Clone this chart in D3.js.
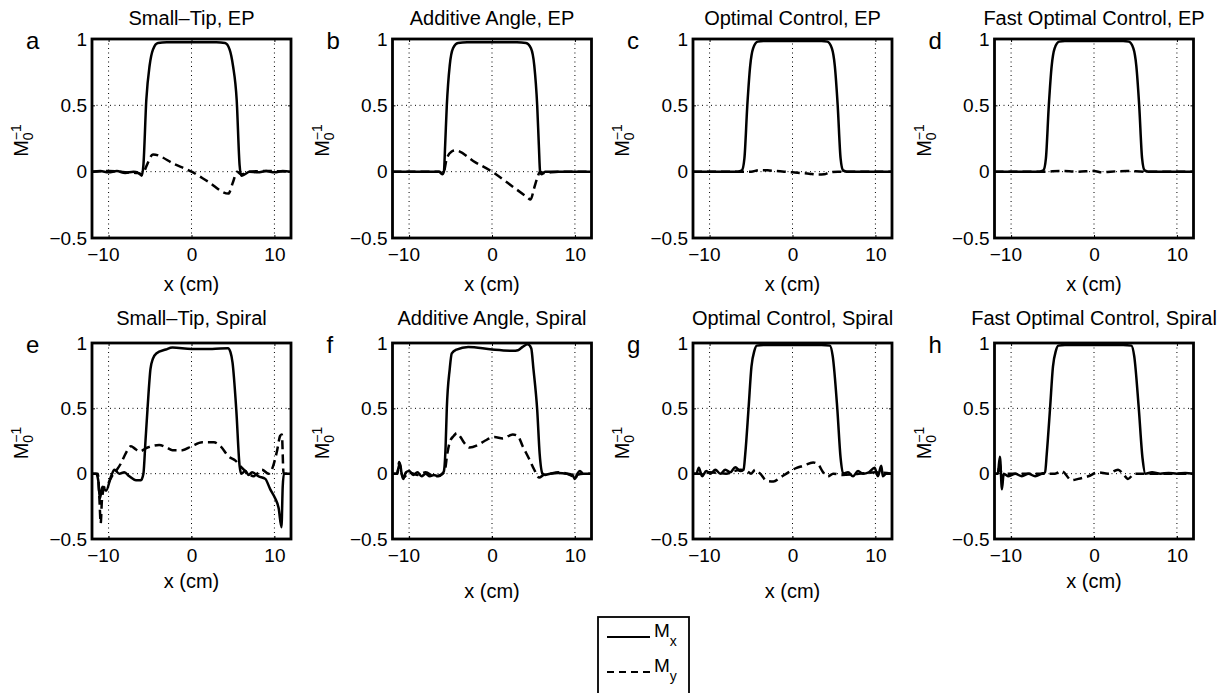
<!DOCTYPE html>
<html>
<head>
<meta charset="utf-8">
<script src="https://cdn.jsdelivr.net/npm/d3@7"></script>
<style>
  body { margin: 0; background: #fff; }
  svg { display: block; }
  text { font-family: "Liberation Sans", Arial, Helvetica, sans-serif; fill: #000; }
</style>
</head>
<body>
<div id="chart"></div>
<script>
// ---- data ----
const titles = [
  "Small–Tip, EP", "Additive Angle, EP", "Optimal Control, EP", "Fast Optimal Control, EP",
  "Small–Tip, Spiral", "Additive Angle, Spiral", "Optimal Control, Spiral", "Fast Optimal Control, Spiral"
];
const letters = ["a", "b", "c", "d", "e", "f", "g", "h"];
const xTicks = [-10, 0, 10];
const yTicks = [-0.5, 0, 0.5, 1];
const yGrid = [0, 0.5];
const xDomain = [-12, 12];
const yDomain = [-0.5, 1];
const seriesNames = [["M", "x"], ["M", "y"]];

const aMx = [[-12,0],[-11,0.005],[-10,-0.005],[-9,0.005],[-8,-0.01],[-7,0],[-6.4,-0.01],[-6.0,-0.03],[-5.8,0.05],[-5.45,0.54],[-5.05,0.8],[-4.65,0.92],[-4.05,0.97],[-3,0.975],[0,0.975],[3,0.975],[4.05,0.97],[4.6,0.92],[5.0,0.8],[5.45,0.54],[5.8,0.05],[6.0,-0.03],[6.4,-0.02],[7,0],[8,-0.005],[9,0.005],[10,-0.005],[11,0.005],[12,0]];
const aMy = [[-12,0],[-10,0.005],[-8,-0.005],[-6.5,-0.01],[-5.9,-0.02],[-5.45,0.04],[-4.65,0.13],[-2,0.055],[0,0],[2,-0.075],[4.45,-0.165],[5.0,-0.08],[5.5,0],[6,-0.02],[7,0],[9,0.005],[12,0]];

const bMx = [[-12,0],[-10,0],[-8,0],[-6.4,0],[-6.0,-0.02],[-5.8,0],[-5.65,0.2],[-5.45,0.5],[-5.1,0.8],[-4.7,0.93],[-4.1,0.97],[-3,0.975],[3,0.975],[4.1,0.97],[4.7,0.93],[5.1,0.8],[5.45,0.5],[5.65,0.2],[5.8,0],[6.0,-0.02],[6.4,0],[8,0],[10,0],[12,0]];
const bMy = [[-12,0],[-8,0],[-6.3,0],[-5.9,-0.02],[-5.45,0.1],[-4.9,0.15],[-4.45,0.16],[-2,0.07],[0,0],[2,-0.09],[4.2,-0.19],[4.65,-0.21],[5.1,-0.12],[5.45,-0.05],[5.8,0],[6.2,-0.01],[8,0],[12,0]];

const cMx = [[-12,0],[-8,0],[-6.6,0],[-6.1,0.01],[-5.8,0.1],[-5.45,0.5],[-5.1,0.8],[-4.75,0.93],[-4.2,0.98],[-3.5,0.985],[3.5,0.985],[4.2,0.98],[4.75,0.93],[5.1,0.8],[5.45,0.5],[5.8,0.1],[6.1,0.01],[6.6,0],[8,0],[12,0]];
const cMy = [[-12,0],[-6,0],[-5,0],[-4,0.012],[-3,0.01],[-2,0.005],[-1,0],[0,-0.005],[1,-0.01],[2,-0.015],[3,-0.022],[3.8,-0.02],[4.5,-0.005],[5.5,0],[12,0]];

const dMx = [[-12,0],[-8,0],[-6.6,0],[-6.1,0.01],[-5.8,0.1],[-5.45,0.5],[-5.1,0.8],[-4.75,0.93],[-4.2,0.98],[-3.5,0.985],[3.5,0.985],[4.2,0.98],[4.75,0.93],[5.1,0.8],[5.45,0.5],[5.8,0.1],[6.1,0.01],[6.6,0],[12,0]];
const dMy = [[-12,0],[-6,0],[-4,0.005],[-2,0],[0,0.005],[1,-0.005],[2,0],[4,0.005],[6,0],[12,0]];

const eMx = [[-12,0],[-11.5,0],[-11.25,-0.05],[-11.05,-0.19],[-10.75,-0.1],[-10.3,-0.13],[-9.7,-0.02],[-9.3,0.03],[-8.7,0],[-8.1,0.01],[-7.5,-0.02],[-6.7,-0.05],[-6.1,-0.05],[-5.8,0],[-5.55,0.25],[-5.3,0.5],[-4.95,0.8],[-4.65,0.88],[-4.25,0.92],[-3.1,0.95],[-2.3,0.965],[0,0.955],[2.5,0.955],[4.4,0.96],[4.7,0.93],[4.95,0.85],[5.4,0.49],[5.8,0.06],[6.0,0],[6.5,0.02],[6.9,-0.01],[7.3,0.01],[8.1,-0.02],[8.9,-0.04],[9.5,-0.12],[10.1,-0.19],[10.5,-0.26],[10.85,-0.41],[11.0,-0.1],[11.15,0],[12,0]];
const eMy = [[-12,0],[-11.3,0],[-11.1,-0.2],[-10.95,-0.38],[-10.8,-0.2],[-10.5,-0.1],[-10.1,-0.08],[-9.6,-0.02],[-9.0,0.03],[-8.5,0.08],[-7.9,0.16],[-7.3,0.21],[-6.8,0.19],[-6.3,0.17],[-5.3,0.2],[-3.9,0.22],[-3,0.2],[-2.3,0.18],[-1.1,0.18],[0,0.21],[1.3,0.24],[2.7,0.24],[3.5,0.21],[4.5,0.13],[5.3,0.1],[6.0,0.05],[6.9,0],[7.5,-0.02],[8.5,0.03],[9.3,0],[9.8,0.05],[10.3,0.17],[10.7,0.29],[10.9,0.3],[11.1,0],[12,0]];

const fMx = [[-12,0],[-11.5,0],[-11.1,0.08],[-10.9,0],[-10.7,-0.04],[-10.4,0.01],[-10,0.02],[-9.5,-0.01],[-9,0.01],[-8.5,-0.02],[-8,0],[-7.5,-0.02],[-7,-0.01],[-6.5,-0.02],[-6,0],[-5.8,0.02],[-5.6,0.2],[-5.45,0.5],[-5.1,0.8],[-4.85,0.92],[-4.27,0.95],[-2.87,0.97],[0,0.95],[2.53,0.94],[3.13,0.945],[3.7,0.97],[4.3,0.99],[4.73,0.96],[5.0,0.8],[5.45,0.49],[5.75,0.15],[6.1,0],[6.4,-0.01],[7,0],[8,0.005],[9,0],[9.7,-0.01],[10.0,-0.04],[10.3,0],[10.6,0.02],[11,0],[12,0]];
const fMy = [[-12,0],[-11.4,0],[-11.2,0.09],[-11.0,0.03],[-10.7,-0.03],[-10,0.01],[-9,-0.01],[-8,0.01],[-7,-0.02],[-6.2,-0.01],[-5.7,0.02],[-5.4,0.15],[-5.1,0.24],[-4.6,0.29],[-4.25,0.31],[-3.8,0.28],[-3.4,0.24],[-2.7,0.2],[-1.7,0.22],[-0.9,0.25],[0.3,0.28],[1.3,0.27],[2.5,0.3],[3.1,0.29],[3.7,0.21],[4.5,0.11],[5.1,0.03],[5.7,-0.03],[6.2,-0.01],[7,0],[8,0.01],[9,0],[9.7,-0.02],[10.0,-0.04],[10.3,-0.01],[11,0],[12,0]];

const gMx = [[-12,0],[-11.6,0],[-11.3,0.045],[-10.9,-0.02],[-10.4,0.02],[-9.9,0],[-9.3,0.03],[-8.7,0],[-8.1,0.03],[-7.5,0.01],[-6.9,0.05],[-6.3,0.02],[-5.9,0.03],[-5.7,0.15],[-5.3,0.5],[-4.95,0.82],[-4.6,0.94],[-4.3,0.98],[-3.5,0.985],[3.5,0.985],[4.5,0.98],[4.85,0.9],[5.4,0.5],[5.8,0.12],[6.1,0],[6.7,0.01],[7.3,-0.02],[7.9,0.02],[8.5,0],[9.2,0.01],[9.9,0.045],[10.3,-0.02],[10.7,0.06],[10.9,-0.02],[11.3,0],[12,0]];
const gMy = [[-12,0],[-11,0],[-10,0.01],[-8,0],[-7,0.02],[-6.3,0.03],[-5.5,0.02],[-5.0,0],[-4.5,0.03],[-3.9,0],[-3.1,-0.055],[-2.3,-0.06],[-1.5,-0.03],[-0.5,0.01],[0.5,0.045],[1.3,0.06],[2.5,0.085],[3.1,0.07],[3.7,0.01],[4.3,-0.02],[4.9,0],[6,-0.01],[8,0],[10,0.01],[12,0]];

const hMx = [[-12,0],[-11.6,0],[-11.35,0.13],[-11.1,-0.12],[-10.9,0],[-10.3,-0.02],[-9.5,0],[-8.7,-0.02],[-7.9,0],[-7.1,-0.02],[-6.3,0],[-5.9,0.01],[-5.7,0.15],[-5.3,0.5],[-4.95,0.82],[-4.6,0.94],[-4.3,0.98],[-3.5,0.985],[3.5,0.985],[4.5,0.98],[4.85,0.9],[5.4,0.5],[5.85,0.12],[6.2,0],[7,0.01],[8,0],[9,0.005],[10,0],[11,0.005],[12,0]];
const hMy = [[-12,0],[-11.6,0],[-11.35,0.08],[-11.1,-0.05],[-10.9,0],[-8,0],[-6,0],[-4.7,0],[-3.9,0.02],[-2.7,-0.05],[-1.9,-0.04],[-0.7,-0.02],[0.5,0.01],[1.7,0],[2.9,0.03],[3.5,0],[4.1,-0.04],[4.9,0],[6,0],[12,0]];

const mxSeries = [aMx, bMx, cMx, dMx, eMx, fMx, gMx, hMx];
const mySeries = [aMy, bMy, cMy, dMy, eMy, fMy, gMy, hMy];

// ---- layout ----
const width = 1224, height = 693;
const colLeft = [92, 392.5, 693, 994.5];
const rowTop = [39, 343];
const rowH = [199, 196];
const plotW = 199;
const xLabelY = [[291, 291, 291, 291], [588, 598, 598, 588]];
const titleY = [25, 325];
const font = "'Liberation Sans', Arial, Helvetica, sans-serif";

const svg = d3.select("#chart").append("svg")
  .attr("width", width)
  .attr("height", height)
  .style("background-color", "#fff");

function styleAxis(sel, size) {
  sel.select(".domain").remove();
  sel.selectAll("line").attr("stroke", "#000").attr("stroke-width", 1);
  sel.selectAll("text").attr("font-size", size).attr("font-family", font).attr("fill", "#000");
}

function drawPanel(i) {
  const r = Math.floor(i / 4), c = i % 4;
  const h = rowH[r];
  const g = svg.append("g").attr("transform", `translate(${colLeft[c]},${rowTop[r]})`);

  const x = d3.scaleLinear().domain(xDomain).range([0, plotW]);
  const y = d3.scaleLinear().domain(yDomain).range([h, 0]);

  // dotted grid
  g.selectAll(".vgrid").data(xTicks).join("line")
    .attr("x1", d => x(d)).attr("x2", d => x(d))
    .attr("y1", 0).attr("y2", h)
    .attr("stroke", "#000").attr("stroke-width", 1)
    .attr("stroke-dasharray", "1,3.5");
  g.selectAll(".hgrid").data(yGrid).join("line")
    .attr("x1", 0).attr("x2", plotW)
    .attr("y1", d => y(d)).attr("y2", d => y(d))
    .attr("stroke", "#000").attr("stroke-width", 1)
    .attr("stroke-dasharray", "1,3.5");

  const line = d3.line()
    .x(d => x(d[0]))
    .y(d => y(d[1]))
    .curve(d3.curveMonotoneX);

  g.append("path")
    .datum(mxSeries[i])
    .attr("d", line)
    .attr("fill", "none")
    .attr("stroke", "#000")
    .attr("stroke-width", 2.5)
    .attr("stroke-linejoin", "round");

  g.append("path")
    .datum(mySeries[i])
    .attr("d", line)
    .attr("fill", "none")
    .attr("stroke", "#000")
    .attr("stroke-width", 2.5)
    .attr("stroke-dasharray", "9,5");

  // axes (ticks inward, box on)
  g.append("g")
    .attr("transform", `translate(0,${h})`)
    .call(d3.axisBottom(x).tickValues(xTicks).tickSize(-3).tickPadding(10).tickFormat(d3.format("~g")))
    .call(s => styleAxis(s, 19))
    .call(s => s.selectAll("text").attr("dx", d => d < 0 ? "-0.3em" : 0));
  g.append("g")
    .call(d3.axisLeft(y).tickValues(yTicks).tickSize(-3).tickPadding(5).tickFormat(d3.format("~g")))
    .call(s => styleAxis(s, 19));
  g.append("g")
    .call(d3.axisTop(x).tickValues(xTicks).tickSize(-3).tickFormat(""))
    .call(s => styleAxis(s, 19));
  g.append("g")
    .attr("transform", `translate(${plotW},0)`)
    .call(d3.axisRight(y).tickValues(yTicks).tickSize(-3).tickFormat(""))
    .call(s => styleAxis(s, 19));

  g.append("rect")
    .attr("x", 0).attr("y", 0)
    .attr("width", plotW).attr("height", h)
    .attr("fill", "none")
    .attr("stroke", "#000")
    .attr("stroke-width", 2.8);

  // title
  g.append("text")
    .attr("x", plotW / 2)
    .attr("y", titleY[r] - rowTop[r])
    .attr("text-anchor", "middle")
    .attr("font-size", "20px")
    .text(titles[i]);

  // panel letter
  g.append("text")
    .attr("x", -66)
    .attr("y", 10)
    .attr("font-size", "24px")
    .text(letters[i]);

  // y label  M_0^-1
  const yl = g.append("text")
    .attr("transform", `translate(-64,${h / 2 + 2}) rotate(-90)`)
    .attr("text-anchor", "middle")
    .attr("font-size", "20px");
  yl.append("tspan").text("M");
  yl.append("tspan").attr("font-size", "14px").attr("dy", 5).text("0");
  yl.append("tspan").attr("font-size", "14px").attr("dx", -7.8).attr("dy", -12).text("−1");

  // x label
  g.append("text")
    .attr("x", plotW / 2)
    .attr("y", xLabelY[r][c] - rowTop[r])
    .attr("text-anchor", "middle")
    .attr("font-size", "20px")
    .text("x (cm)");
}

d3.range(8).forEach(drawPanel);

// legend
const legend = svg.append("g").attr("transform", "translate(598,617)");
legend.append("rect")
  .attr("x", 0).attr("y", 0)
  .attr("width", 91).attr("height", 90)
  .attr("fill", "#fff")
  .attr("stroke", "#000")
  .attr("stroke-width", 1.8);

const rows = legend.selectAll(".item").data(seriesNames).join("g")
  .attr("transform", (d, k) => `translate(0,${20 + k * 35})`);
rows.append("line")
  .attr("x1", 9).attr("x2", 52)
  .attr("y1", 0).attr("y2", 0)
  .attr("stroke", "#000")
  .attr("stroke-width", 2.2)
  .attr("stroke-dasharray", (d, k) => k === 0 ? null : "7,5");
const lt = rows.append("text")
  .attr("x", 56)
  .attr("y", 0)
  .attr("font-size", "19px");
lt.append("tspan").text(d => d[0]);
lt.append("tspan").attr("font-size", "14px").attr("dy", 9).text(d => d[1]);
</script>
</body>
</html>
